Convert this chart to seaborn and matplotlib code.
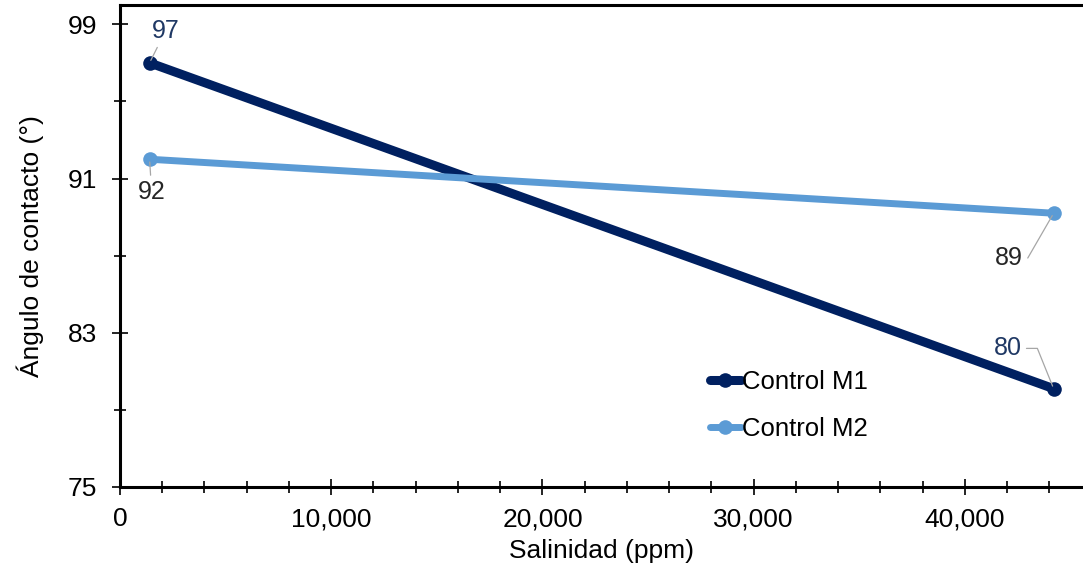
import pandas as pd
import numpy as np
import matplotlib
matplotlib.use("Agg")
import matplotlib.pyplot as plt
from matplotlib.ticker import MultipleLocator, FuncFormatter
import seaborn as sns

# data
salinidad = [1400, 44200]
m1_angulo = [97.0, 80.1]
m2_angulo = [92.0, 89.2]
series = ["Control M1", "Control M2"]
colors = {"Control M1": "#002060", "Control M2": "#5B9BD5"}
widths = {"Control M1": 6.5, "Control M2": 5.0}
label_colors = {"Control M1": "#1F3864", "Control M2": "#262626"}

df = pd.DataFrame({
    "Salinidad": salinidad * 2,
    "Angulo": m1_angulo + m2_angulo,
    "Serie": [series[0]] * 2 + [series[1]] * 2,
})

sns.set_style("ticks")
plt.rcParams["font.family"] = ["Liberation Sans", "DejaVu Sans"]
plt.rcParams["text.color"] = "black"
plt.rcParams["axes.labelcolor"] = "black"

fig = plt.figure(figsize=(10.83, 5.69), dpi=100)
ax = fig.add_axes([120 / 1083, 1 - 487 / 569, 963 / 1083, 482 / 569])

for s in series:
    sns.lineplot(data=df[df["Serie"] == s], x="Salinidad", y="Angulo",
                 color=colors[s], linewidth=widths[s], marker="o",
                 markersize=10.5, markeredgewidth=0, label=s, ax=ax)

ax.set_xlim(0, 45590)
ax.set_ylim(75, 100)
ax.xaxis.set_major_locator(MultipleLocator(10000))
ax.xaxis.set_minor_locator(MultipleLocator(2000))
ax.set_yticks([75, 83, 91, 99])
ax.set_yticks([79, 87, 95], minor=True)
ax.xaxis.set_major_formatter(FuncFormatter(lambda v, p: f"{int(v):,}"))

ax.tick_params(which="major", direction="inout", length=11, width=1.2,
               labelsize=19, colors="black", pad=9)
ax.tick_params(which="minor", direction="inout", length=8, width=1.2,
               colors="black")
ax.tick_params(axis="y", which="major", pad=11)

for side in ["left", "bottom", "top"]:
    ax.spines[side].set_linewidth(2.2)
    ax.spines[side].set_color("black")
ax.spines["right"].set_visible(False)

ax.set_xlabel("Salinidad (ppm)", fontsize=19, labelpad=6)
ax.set_ylabel("Ángulo de contacto (°)", fontsize=19, labelpad=17)

# data labels with leader lines
lead = dict(arrowstyle="-", color="#A6A6A6", lw=0.9, shrinkA=1, shrinkB=2)
ax.annotate(f"{m1_angulo[0]:.0f}", xy=(salinidad[0], m1_angulo[0]),
            xytext=(11.5, 23), textcoords="offset points", ha="center",
            va="center", fontsize=18, color=label_colors["Control M1"],
            arrowprops=lead)
ax.annotate(f"{m2_angulo[0]:.0f}", xy=(salinidad[0], m2_angulo[0]),
            xytext=(1.5, -23.5), textcoords="offset points", ha="center",
            va="center", fontsize=18, color=label_colors["Control M2"],
            arrowprops=lead)
ax.annotate(f"{m2_angulo[1]:.0f}", xy=(salinidad[1], m2_angulo[1]),
            xytext=(-32, -32.5), textcoords="offset points", ha="center",
            va="center", fontsize=18, color=label_colors["Control M2"],
            arrowprops=dict(lead, relpos=(1, 0.5),
                            connectionstyle="angle,angleA=0,angleB=60,rad=0"))
ax.annotate(f"{m1_angulo[1]:.0f}", xy=(salinidad[1], m1_angulo[1]),
            xytext=(-33, 29), textcoords="offset points", ha="center",
            va="center", fontsize=18, color=label_colors["Control M1"],
            arrowprops=dict(lead, relpos=(1, 0.5),
                            connectionstyle="angle,angleA=0,angleB=-68,rad=0"))

ax.legend(loc="upper left", bbox_to_anchor=(0.594, 0.28), frameon=False,
          fontsize=18.5, handlelength=1.2, handletextpad=0.05,
          labelspacing=0.88, borderpad=0.2)

fig.savefig("out.png", dpi=100)
